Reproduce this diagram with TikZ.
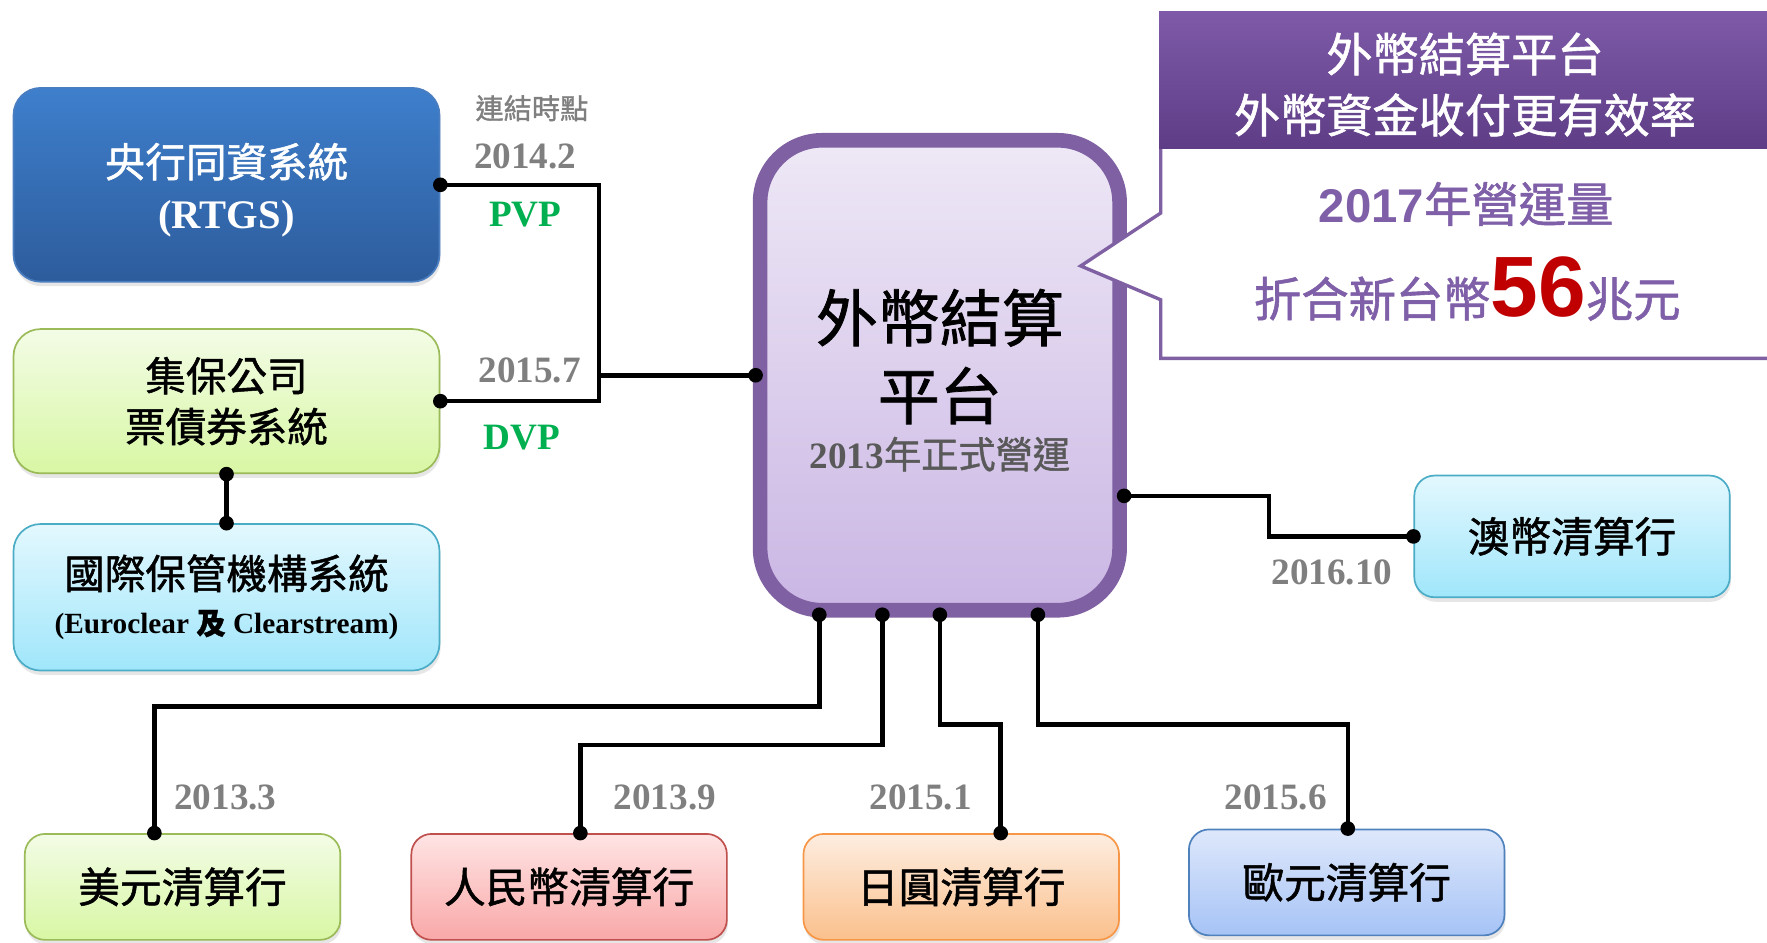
\documentclass[tikz,border=0pt]{standalone}
\usepackage{fontspec}
\setmainfont{Liberation Serif}
\newfontfamily\cjk[FakeBold=1.2]{Noto Sans CJK TC}
\newfontfamily\arialf{Liberation Sans}
\usetikzlibrary{calc,shadows}

\definecolor{rtgstop}{HTML}{3E7FCC}
\definecolor{rtgsbot}{HTML}{2D5C9C}
\definecolor{rtgsline}{HTML}{4A7EC0}
\definecolor{grtop}{HTML}{F3FCE6}
\definecolor{grbot}{HTML}{D8F7A4}
\definecolor{grline}{HTML}{9BBB59}
\definecolor{cytop}{HTML}{E3F8FE}
\definecolor{cybot}{HTML}{A0E6FB}
\definecolor{cyline}{HTML}{4BACC6}
\definecolor{rdtop}{HTML}{FFE4E4}
\definecolor{rdbot}{HTML}{F9A8A8}
\definecolor{rdline}{HTML}{C0504D}
\definecolor{ortop}{HTML}{FDEDE0}
\definecolor{orbot}{HTML}{FBC08C}
\definecolor{orline}{HTML}{F79646}
\definecolor{bltop}{HTML}{DEE8FB}
\definecolor{blbot}{HTML}{A6C3F6}
\definecolor{blline}{HTML}{4F81BD}
\definecolor{pltop}{HTML}{EEE8F6}
\definecolor{plbot}{HTML}{CAB6E4}
\definecolor{plline}{HTML}{7F60A2}
\definecolor{hdtop}{HTML}{7E5AA8}
\definecolor{hdbot}{HTML}{5E3D86}
\definecolor{calpurple}{HTML}{7F5FA8}
\definecolor{numred}{HTML}{C00000}
\definecolor{pvpgreen}{HTML}{00B050}
\definecolor{dategray}{HTML}{7F7F7F}
\definecolor{subgray}{HTML}{595959}

\newcommand\fsz[2]{\fontsize{#1}{#2}\selectfont}

\tikzset{
  roundbox/.style={
    rectangle,
    rounded corners=24pt,
    line width=1.5pt,
    align=center,
    inner sep=0pt,
    drop shadow={shadow xshift=1pt, shadow yshift=-4pt, opacity=.2}},
  boxfill/.style={top color=#1top, bottom color=#1bot, draw=#1line},
  sysbox/.style={roundbox, minimum width=378pt},
  bankbox/.style={
    roundbox,
    rounded corners=18pt,
    minimum width=280pt,
    minimum height=94pt,
    font=\cjk\fsz{37}{44}},
  platbox/.style={
    rectangle,
    rounded corners=55pt,
    line width=13pt,
    draw=plline,
    top color=pltop, bottom color=plbot,
    minimum width=319pt, minimum height=417pt,
    outer sep=4pt},
  joint/.style={circle, fill=black, inner sep=0pt, minimum size=13pt},
  link/.style={draw, line width=4pt},
  date/.style={text=dategray, font=\bfseries\fsz{33}{33}},
  deal/.style={text=pvpgreen, font=\bfseries\fsz{33}{33}},
}

\begin{document}
\begin{tikzpicture}[x=1pt,y=-1pt]
\useasboundingbox (0,0) rectangle (1568,836);
\clip (0,0) rectangle (1568,836);

% platform
\node[platbox] (plat) at (834,333) {};
\node[font=\cjk\fsz{55}{55}] at (834,282) {外幣結算};
\node[font=\cjk\fsz{55}{55}] at (834,351) {平台};
\node[text=subgray, font=\fsz{33}{33}] at (834,403) {{\bfseries 2013}{\cjk 年正式營運}};

% domestic systems
\node[sysbox, boxfill=rtgs, minimum height=172pt, text=white, font=\cjk\fsz{36}{46}] (rtgs) at (201,164)
  {\rule{0pt}{40pt}央行同資系統\\{\rmfamily\bfseries (RTGS)}};
\node[sysbox, boxfill=gr, minimum height=128pt, font=\cjk\fsz{36}{45}] (csd) at (201,356)
  {集保公司\\票債券系統};
\node[sysbox, boxfill=cy, minimum height=130pt, font=\cjk\fsz{36}{36}] (icsd) at (201,530)
  {國際保管機構系統\\[4pt]{\rmfamily\bfseries\fsz{26}{26}(Euroclear {\cjk 及} Clearstream)}};

\node[joint] (jR) at (rtgs.east) {};
\node[joint] (jC) at (csd.east) {};
\node[joint] (jP) at (plat.west) {};
\node[joint] (jCs) at (csd.south) {};
\node[joint] (jIc) at (icsd.north) {};
\coordinate (fork) at ($(jP)+(-139,0)$);
\draw[link] (jR.center) -| (fork) |- (jC.center);
\draw[link] (fork) -- (jP.center);
\draw[link] (jCs.center) -- (jIc.center);

\node[text=dategray, font=\cjk\fsz{25}{25}] at (472,96) {連結時點};
\node[date] at (466,139) {2014.2};
\node[deal] at (466,190) {PVP};
\node[date] at (470,329) {2015.7};
\node[deal] at (463,388) {DVP};

% AUD
\node[bankbox, boxfill=cy, minimum height=108pt] (aud) at (1395,476) {澳幣清算行};
\node[joint] (jA) at ($(plat.east)+(0,107)$) {};
\node[joint] (jAu) at (aud.west) {};
\draw[link] (jA.center) -| ($(jA)!.5!(jAu)$) |- (jAu.center);
\node[date] at (1182,508) {2016.10};

% clearing banks
\foreach \nm/\cx/\cy/\fl/\txt/\pd/\bend/\bd/\yr/\yx in {
    usd/162/787/gr/美元清算行/-107/627/-25/2013.3/200,
    cny/505/787/rd/人民幣清算行/-51/661/10/2013.9/590,
    jpy/853/787/or/日圓清算行/0/643/35/2015.1/817,
    eur/1195/783/bl/歐元清算行/87/643/1/2015.6/1132}{
  \node[bankbox, boxfill=\fl] (\nm) at (\cx,\cy) {\txt};
  \node[joint] (t\nm) at ($(plat.south)+(\pd,0)$) {};
  \node[joint] (b\nm) at ($(\nm.north)+(\bd,0)$) {};
  \coordinate (k\nm) at (0,\bend);
  \draw[link] (t\nm.center) -- (t\nm |- k\nm) -| (b\nm.center);
  \node[date] at (\yx,708) {\yr};
}

% callout
\draw[line width=3pt, draw=plline, fill=white] (1030,125) -- (1030,189) -- (959,236) -- (1030,266)
  -- (1030,318) -- (1600,318) -- (1600,125);
\shade[top color=hdtop, bottom color=hdbot] (1028.5,10) rectangle (1600,132);
\node[text=white, font=\cjk\fsz{41}{41}] at (1300,48) {外幣結算平台};
\node[text=white, font=\cjk\fsz{41}{41}] at (1300,102) {外幣資金收付更有效率};
\node[anchor=base, text=calpurple, font=\fsz{42}{42}] at (1301,197)
  {{\arialf\bfseries 2017}{\cjk 年營運量}};
\node[anchor=base, text=calpurple, font=\fsz{42}{42}] at (1302,281)
  {{\cjk 折合新台幣}{\arialf\bfseries\color{numred}\fsz{76}{76}56}{\cjk 兆元}};
\end{tikzpicture}
\end{document}
